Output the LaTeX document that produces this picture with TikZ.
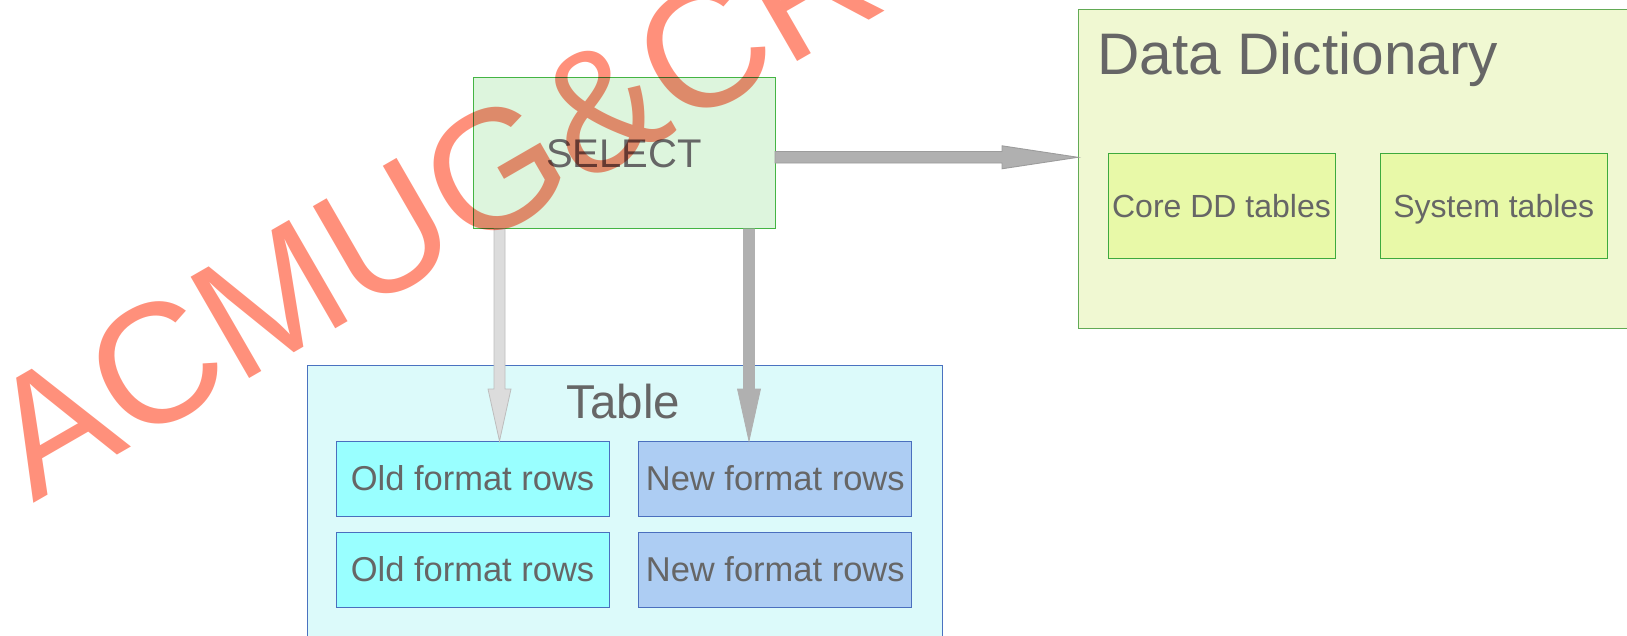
\documentclass[tikz,border=0pt]{standalone}
\usepackage{fontspec}
\setmainfont{Liberation Sans}
\usetikzlibrary{calc}
\definecolor{txt}{HTML}{666666}
\definecolor{selfill}{HTML}{DDF5DD}
\definecolor{selline}{HTML}{44B444}
\definecolor{ddfill}{HTML}{F0F8D2}
\definecolor{ddline}{HTML}{62AA55}
\definecolor{ddinfill}{HTML}{E8F9A8}
\definecolor{ddinline}{HTML}{3DAA3D}
\definecolor{tabfill}{HTML}{DCFAFA}
\definecolor{tabline}{HTML}{4A72C0}
\definecolor{oldfill}{HTML}{99FFFF}
\definecolor{newfill}{HTML}{ADCDF3}
\definecolor{rowline}{HTML}{4A6FBE}
\definecolor{lightarrow}{HTML}{DCDCDC}
\definecolor{lightarrowline}{HTML}{BDBDBD}
\definecolor{darkarrow}{HTML}{B0B0B0}
\definecolor{darkarrowline}{HTML}{9C9C9C}
\definecolor{wm}{HTML}{FF907B}
\newcommand\vblockarrow[3]{%
  \path[#1] let \p1=(#2), \p2=(#3) in
    (\x1-5.5pt,\y1) -- (\x1-5.5pt,\y2+52pt) -- (\x1-11.5pt,\y2+52pt) -- (\x2,\y2)
    -- (\x1+11.5pt,\y2+52pt) -- (\x1+5.5pt,\y2+52pt) -- (\x1+5.5pt,\y1) -- cycle;}
\newcommand\hblockarrow[3]{%
  \path[#1] let \p1=(#2), \p2=(#3) in
    (\x1,\y1+5.75pt) -- (\x2-76pt,\y1+5.75pt) -- (\x2-76pt,\y1+11.5pt) -- (\x2,\y1)
    -- (\x2-76pt,\y1-11.5pt) -- (\x2-76pt,\y1-5.75pt) -- (\x1,\y1-5.75pt) -- cycle;}
\begin{document}
\begin{tikzpicture}[x=1pt,y=-1pt,
  box/.style={rectangle, inner sep=0pt, outer sep=0pt, line width=1pt, text=txt, text depth=0pt},
  selbox/.style={box, fill=selfill, draw=selline, text height=28.6pt, font=\fontsize{40pt}{48pt}\selectfont},
  ddbox/.style={box, fill=ddfill, draw=ddline},
  ddinbox/.style={box, fill=ddinfill, draw=ddinline, minimum width=227pt, minimum height=105pt, text height=22.9pt, font=\fontsize{32pt}{38pt}\selectfont},
  tabbox/.style={box, fill=tabfill, draw=tabline},
  rowbox/.style={box, draw=rowline, minimum width=273pt, minimum height=75pt, text height=24.7pt, font=\fontsize{34.5pt}{40pt}\selectfont},
  oldrow/.style={rowbox, fill=oldfill},
  newrow/.style={rowbox, fill=newfill},
  title/.style={inner sep=0pt, outer sep=0pt, text=txt},
  lightarr/.style={fill=lightarrow, draw=lightarrowline, line width=0.8pt},
  darkarr/.style={fill=darkarrow, draw=darkarrow, line width=0.8pt},
  rightarr/.style={fill=darkarrow, draw=darkarrowline, line width=0.9pt},
  watermark/.style={inner sep=0pt, outer sep=0pt, text=wm, rotate=30, anchor=base west, font=\fontsize{170pt}{170pt}\selectfont}
]
\useasboundingbox (0,0) rectangle (1627,636);
\clip (0,0) rectangle (1627,636);

% SELECT
\node[selbox, minimum width=302pt, minimum height=151pt] (select) at (624,153.5) {SELECT};

% Data dictionary
\node[ddbox, minimum width=559pt, minimum height=318.5pt] (dd) at (1357.5,168.75) {};
\node[title, anchor=base west, font=\fontsize{58.6pt}{64pt}\selectfont] (ddtitle) at (1097.5,75) {Data Dictionary};
\node[ddinbox] (core) at (1221.5,206.5) {Core DD tables};
\node[ddinbox] (sys) at (1493.75,206.5) {System tables};

% Table
\node[tabbox, minimum width=635pt, minimum height=295pt] (table) at (624.5,512.5) {};
\node[title, anchor=base, font=\fontsize{47.5pt}{52pt}\selectfont] (tabletitle) at (623.5,418) {Table};
\node[oldrow] (old1) at (472.5,478.5) {Old format rows};
\node[newrow] (new1) at (775.25,478.5) {New format rows};
\node[oldrow] (old2) at (472.5,569.5) {Old format rows};
\node[newrow] (new2) at (775.25,569.5) {New format rows};

% connectors
\coordinate (a1s) at ([xshift=-124.5pt]select.south);
\coordinate (a1e) at (a1s |- old1.north);
\coordinate (a2s) at ([xshift=125pt]select.south);
\coordinate (a2e) at (a2s |- new1.north);
\coordinate (a3s) at ([yshift=-3.8pt]select.east);
\coordinate (a3e) at (a3s -| dd.west);
\vblockarrow{lightarr}{a1s}{a1e}
\vblockarrow{darkarr}{a2s}{a2e}
\hblockarrow{rightarr}{a3s}{a3e}

% watermark
\begin{scope}[blend mode=multiply]
\node[watermark] (wmark) at (33.3,503.3) {ACMUG\&CRUG};
\end{scope}
\end{tikzpicture}
\end{document}
